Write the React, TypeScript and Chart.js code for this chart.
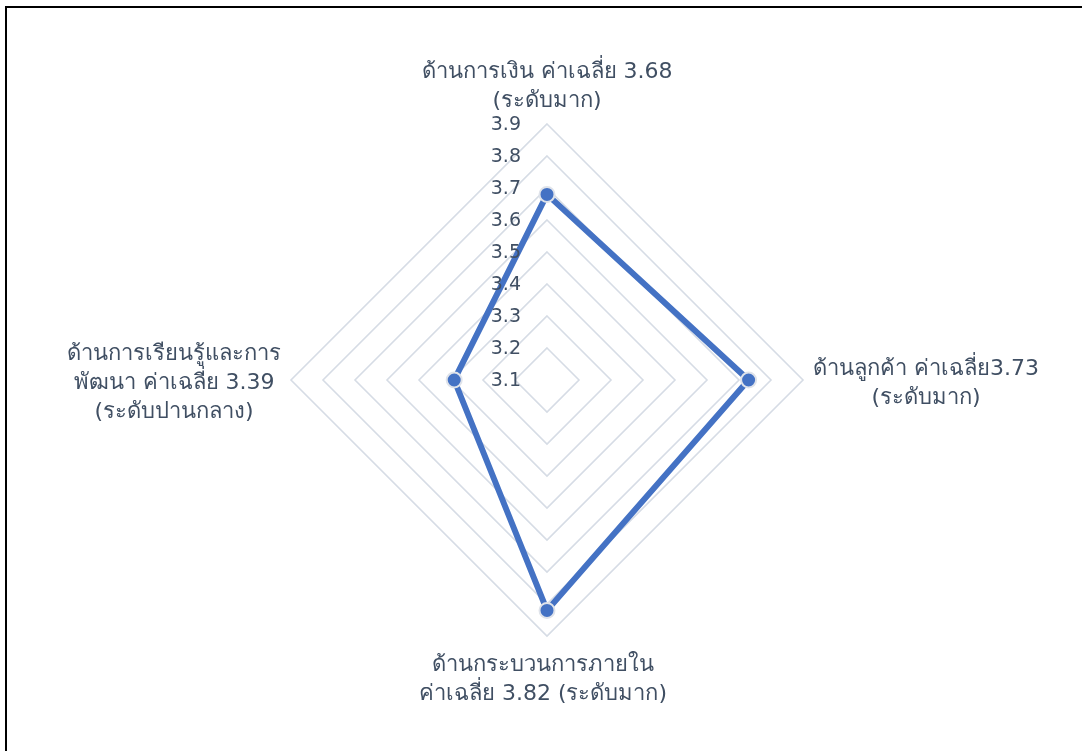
import React, { useEffect, useRef } from "react";
import { Chart, registerables } from "chart.js";

Chart.register(...registerables);

const categories: string[][] = [
  ["ด้านการเงิน ค่าเฉลี่ย 3.68", "(ระดับมาก)"],
  ["ด้านลูกค้า ค่าเฉลี่ย3.73", "(ระดับมาก)"],
  ["ด้านกระบวนการภายใน", "ค่าเฉลี่ย 3.82 (ระดับมาก)"],
  ["ด้านการเรียนรู้และการ", "พัฒนา ค่าเฉลี่ย 3.39", "(ระดับปานกลาง)"],
];
const values: number[] = [3.68, 3.73, 3.82, 3.39];
const tickValues: number[] = [3.1, 3.2, 3.3, 3.4, 3.5, 3.6, 3.7, 3.8, 3.9];
const tickLabels: string[] = ["3.1", "3.2", "3.3", "3.4", "3.5", "3.6", "3.7", "3.8", "3.9"];

const TEXT_COLOR = "#404f63";
const FONT = "'DejaVu Sans', 'Noto Sans', sans-serif";

const labelPlugin = {
  id: "customLabels",
  afterDraw(chart: any) {
    const scale = chart.scales.r;
    const ctx = chart.ctx as CanvasRenderingContext2D;
    ctx.save();
    ctx.fillStyle = TEXT_COLOR;
    // tick labels
    ctx.font = `19px ${FONT}`;
    ctx.textAlign = "right";
    ctx.textBaseline = "middle";
    tickValues.forEach((v, i) => {
      const d = scale.getDistanceFromCenterForValue(v);
      ctx.fillText(tickLabels[i], scale.xCenter - 26, scale.yCenter - d + 1);
    });
    // point labels
    ctx.font = `22px ${FONT}`;
    ctx.textAlign = "center";
    const lh = 29;
    const maxR = scale.getDistanceFromCenterForValue(scale.max);
    categories.forEach((lines, i) => {
      const p = scale.getPointPosition(i, maxR);
      const w = Math.max(...lines.map((l) => ctx.measureText(l).width));
      const n = lines.length;
      let cx = p.x;
      let top = p.y;
      if (i === 0) {
        cx = p.x;
        top = p.y - 8 - n * lh;
      } else if (i === 1) {
        cx = p.x + 10 + w / 2;
        top = p.y - (n * lh) / 2 + 4;
      } else if (i === 2) {
        cx = p.x - 4;
        top = p.y + 15;
      } else {
        cx = p.x - 10 - w / 2;
        top = p.y - (n * lh) / 2 + 3;
      }
      lines.forEach((l, k) => {
        ctx.fillText(l, cx, top + lh * k + lh / 2);
      });
    });
    ctx.restore();
  },
};

export default function App() {
  const ref = useRef<HTMLCanvasElement | null>(null);
  useEffect(() => {
    if (!ref.current) return;
    const chart = new Chart(ref.current, {
      type: "radar",
      data: {
        labels: categories,
        datasets: [
          {
            data: values,
            borderColor: "#4472c4",
            backgroundColor: "rgba(0,0,0,0)",
            borderWidth: 6,
            pointRadius: 7.5,
            pointBackgroundColor: "#4472c4",
            pointBorderColor: "#dfe3ea",
            pointBorderWidth: 2,
            fill: false,
          },
        ],
      },
      options: {
        animation: false,
        responsive: false,
        maintainAspectRatio: false,
        layout: { padding: { left: 291, right: 279, top: 124, bottom: 115 } },
        plugins: { legend: { display: false }, tooltip: { enabled: false } },
        scales: {
          r: {
            min: 3.1,
            max: 3.9,
            ticks: { display: false, stepSize: 0.1 },
            pointLabels: { display: false },
            angleLines: { display: false },
            grid: { color: "#d6dce5", lineWidth: 1.6 },
          },
        },
      },
      plugins: [labelPlugin],
    });
    return () => chart.destroy();
  }, []);
  return (
    <div style={{ position: "fixed", left: 0, top: 0, width: 1082, height: 751, background: "#fff", overflow: "hidden" }}>
      <canvas ref={ref} width={1082} height={751} style={{ position: "absolute", left: 0, top: 0, width: 1082, height: 751 }} />
      <div
        style={{
          position: "absolute",
          left: 5,
          top: 6,
          width: 1200,
          height: 900,
          borderTop: "2px solid #000",
          borderLeft: "2px solid #000",
          pointerEvents: "none",
        }}
      />
    </div>
  );
}
